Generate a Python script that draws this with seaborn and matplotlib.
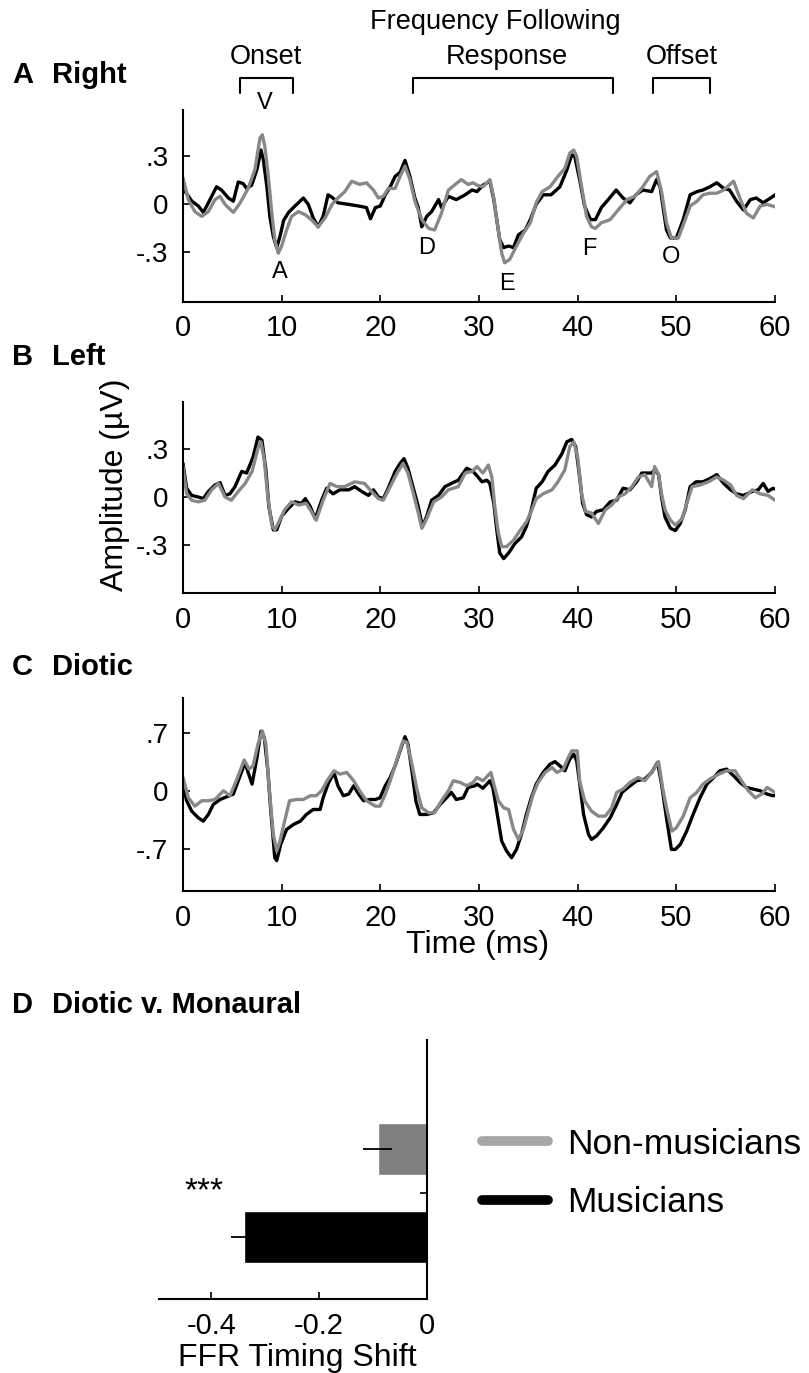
import numpy as np
import pandas as pd
import matplotlib
matplotlib.use('Agg')
import matplotlib.pyplot as plt
import matplotlib.transforms as mtransforms
from matplotlib.lines import Line2D
import seaborn as sns

# ---------------- data ----------------
right_musicians = [(0,0.10),(0.9,0.02),(1.55,-0.01),(2.06,-0.05),(2.57,0.01),(3.4,0.11),(3.9,0.09),(4.6,0.04),(5.1,0.02),(5.6,0.14),(6.1,0.13),(6.45,0.10),(6.96,0.12),(7.5,0.22),(7.9,0.34),(8.14,0.28),(8.5,0.11),(8.8,-0.075),(9.15,-0.2),(9.5,-0.27),(9.83,-0.2),(10.2,-0.1),(10.7,-0.05),(11.35,-0.01),(12.2,0.04),(12.7,0.0),(13.2,-0.085),(13.7,-0.14),(14.2,-0.075),(14.7,0.06),(15.2,0.04),(15.7,0.01),(16.8,0.0),(17.8,-0.01),(18.6,-0.02),(19.0,-0.09),(19.5,-0.02),(20.0,-0.01),(20.5,0.06),(21.0,0.11),(21.5,0.175),(22.0,0.2),(22.5,0.275),(23.0,0.175),(23.5,0.04),(23.85,-0.02),(24.2,-0.14),(24.7,-0.075),(25.2,-0.045),(25.9,0.03),(26.2,-0.02),(26.9,0.05),(27.7,0.03),(28.6,0.06),(29.3,0.09),(29.8,0.08),(30.4,0.12),(31.1,0.145),(31.5,0.03),(31.8,-0.095),(32.1,-0.22),(32.5,-0.27),(33.0,-0.26),(33.5,-0.27),(34.0,-0.19),(34.7,-0.16),(35.2,-0.095),(35.8,0.0),(36.5,0.06),(37.3,0.06),(38.2,0.11),(38.9,0.215),(39.4,0.31),(39.7,0.30),(40.2,0.155),(40.7,-0.01),(41.3,-0.095),(41.8,-0.095),(42.4,-0.02),(43.1,0.03),(43.9,0.09),(44.6,0.04),(45.3,0.01),(45.9,0.06),(46.6,0.09),(47.5,0.08),(48.0,0.155),(48.35,0.11),(48.7,-0.035),(49.0,-0.16),(49.4,-0.21),(50.0,-0.21),(50.7,-0.095),(51.4,0.06),(52.1,0.08),(52.7,0.09),(53.4,0.11),(54.1,0.135),(54.8,0.10),(55.4,0.09),(56.1,0.02),(56.8,-0.035),(57.5,0.03),(58.1,0.04),(58.8,0.01),(59.8,0.05),(60,0.06)]
right_nonmusicians = [(0,0.165),(0.54,0.03),(1.2,-0.045),(1.9,-0.075),(2.57,-0.045),(3.24,0.03),(3.75,0.05),(4.26,0.0),(5.1,-0.05),(5.8,0.01),(6.6,0.10),(7.3,0.22),(7.8,0.415),(8.04,0.435),(8.3,0.36),(8.65,0.175),(9.0,-0.055),(9.3,-0.22),(9.66,-0.305),(10.0,-0.26),(10.5,-0.16),(11.0,-0.075),(11.7,-0.045),(12.4,-0.065),(13.0,-0.095),(13.7,-0.14),(14.4,-0.085),(15.1,0.0),(15.7,0.04),(16.4,0.08),(17.1,0.145),(17.9,0.125),(18.6,0.135),(19.3,0.09),(19.8,0.04),(20.3,0.05),(20.8,0.10),(21.5,0.10),(22.0,0.175),(22.5,0.24),(23.0,0.155),(23.5,0.02),(24.2,-0.095),(24.9,-0.15),(25.5,-0.16),(26.2,-0.055),(26.9,0.09),(27.6,0.125),(28.2,0.155),(28.9,0.125),(29.4,0.135),(29.8,0.12),(30.4,0.11),(31.1,0.155),(31.5,0.04),(31.8,-0.095),(32.3,-0.305),(32.6,-0.365),(33.1,-0.345),(33.8,-0.26),(34.5,-0.18),(35.2,-0.115),(35.8,0.01),(36.4,0.08),(37.2,0.11),(38.0,0.175),(38.7,0.225),(39.2,0.32),(39.6,0.34),(39.9,0.30),(40.4,0.11),(40.9,-0.075),(41.4,-0.14),(41.8,-0.15),(42.4,-0.115),(43.3,-0.095),(44.1,-0.035),(45.0,0.03),(45.8,0.05),(46.6,0.11),(47.3,0.175),(48.0,0.205),(48.5,0.08),(49.0,-0.115),(49.5,-0.21),(50.2,-0.21),(50.9,-0.095),(51.4,-0.01),(52.1,0.02),(52.7,0.06),(53.4,0.07),(54.1,0.07),(54.8,0.09),(55.8,0.145),(56.5,0.03),(57.1,-0.055),(57.8,-0.085),(58.5,-0.01),(59.2,0.0),(60,-0.015)]

left_musicians = [(0,0.21),(0.37,0.055),(0.88,0.01),(1.55,0.0),(2.06,-0.01),(2.57,0.035),(3.24,0.075),(3.75,0.09),(4.26,0.01),(4.76,0.02),(5.27,0.065),(5.95,0.16),(6.45,0.15),(7.1,0.25),(7.6,0.375),(8.0,0.355),(8.4,0.17),(8.7,-0.06),(9.15,-0.205),(9.5,-0.205),(10.0,-0.12),(10.7,-0.07),(11.35,-0.03),(12.0,-0.04),(12.4,-0.01),(12.9,-0.06),(13.4,-0.135),(14.05,-0.02),(14.56,0.055),(15.2,0.02),(15.9,0.045),(16.8,0.045),(17.4,0.065),(18.1,0.035),(18.8,0.01),(19.3,0.045),(19.8,0.0),(20.3,-0.01),(20.8,0.055),(21.5,0.16),(22.0,0.21),(22.4,0.24),(22.8,0.18),(23.3,0.065),(23.85,-0.06),(24.26,-0.185),(24.7,-0.12),(25.2,-0.02),(25.9,0.01),(26.55,0.065),(27.2,0.085),(27.9,0.105),(28.75,0.18),(29.4,0.16),(29.9,0.125),(30.3,0.095),(30.8,0.105),(31.1,0.085),(31.5,-0.04),(31.8,-0.205),(32.1,-0.35),(32.5,-0.385),(33.0,-0.35),(33.65,-0.29),(34.3,-0.25),(34.8,-0.185),(35.3,-0.08),(35.8,0.055),(36.4,0.095),(37.0,0.16),(37.7,0.2),(38.4,0.27),(38.9,0.345),(39.4,0.36),(39.8,0.315),(40.2,0.125),(40.5,-0.04),(40.9,-0.11),(41.4,-0.125),(41.9,-0.09),(42.6,-0.08),(43.3,-0.03),(43.95,-0.02),(44.6,0.055),(45.3,0.045),(45.98,0.095),(46.5,0.15),(47.5,0.15),(47.8,0.17),(48.2,0.14),(48.5,0.0),(48.85,-0.125),(49.4,-0.195),(49.9,-0.21),(50.4,-0.165),(50.9,-0.08),(51.4,0.065),(52.0,0.095),(52.7,0.095),(53.4,0.115),(54.1,0.14),(54.8,0.085),(55.5,0.045),(56.1,0.02),(56.8,0.01),(57.7,0.035),(58.3,0.045),(58.8,0.085),(59.3,0.035),(59.8,0.055),(60,0.05)]
left_nonmusicians = [(0,0.19),(0.37,0.02),(0.88,-0.02),(1.55,-0.03),(2.2,-0.02),(2.9,0.045),(3.6,0.085),(4.26,0.0),(4.9,-0.02),(5.6,0.035),(6.3,0.085),(7.0,0.16),(7.6,0.305),(7.9,0.345),(8.24,0.23),(8.6,0.0),(9.0,-0.175),(9.3,-0.205),(9.8,-0.145),(10.3,-0.08),(11.0,-0.03),(11.7,-0.05),(12.5,-0.04),(13.0,-0.09),(13.5,-0.145),(14.2,-0.02),(14.9,0.085),(15.6,0.065),(16.4,0.065),(17.4,0.095),(18.4,0.085),(19.1,0.035),(19.8,-0.01),(20.3,-0.02),(21.0,0.065),(21.7,0.15),(22.3,0.21),(22.8,0.15),(23.3,0.035),(23.85,-0.1),(24.2,-0.195),(24.7,-0.135),(25.4,-0.03),(26.2,0.0),(26.9,0.045),(27.9,0.065),(28.6,0.15),(29.3,0.16),(29.8,0.19),(30.4,0.15),(30.95,0.2),(31.3,0.125),(31.6,-0.06),(31.96,-0.225),(32.3,-0.31),(32.8,-0.31),(33.5,-0.27),(34.1,-0.215),(34.8,-0.155),(35.3,-0.09),(35.8,-0.01),(36.5,0.02),(37.4,0.045),(38.0,0.095),(38.7,0.17),(39.2,0.315),(39.6,0.345),(40.0,0.25),(40.4,0.02),(40.8,-0.09),(41.4,-0.1),(42.1,-0.165),(42.8,-0.08),(43.45,-0.05),(44.1,0.0),(44.8,0.02),(45.5,0.065),(46.15,0.125),(46.8,0.14),(47.5,0.065),(47.8,0.19),(48.2,0.14),(48.5,0.02),(48.85,-0.08),(49.4,-0.145),(49.9,-0.175),(50.6,-0.135),(51.05,-0.04),(51.6,0.065),(52.4,0.075),(53.25,0.095),(54.1,0.125),(54.8,0.105),(55.5,0.075),(56.1,0.01),(56.8,-0.01),(57.7,0.045),(58.5,0.02),(59.3,0.01),(60,-0.02)]

diotic_musicians = [(0,0.065),(0.37,-0.115),(0.88,-0.24),(1.55,-0.32),(2.06,-0.36),(2.57,-0.28),(3.07,-0.16),(3.75,-0.1),(4.6,-0.06),(5.1,-0.035),(5.6,0.125),(6.3,0.345),(6.6,0.225),(7.0,0.085),(7.5,0.405),(7.9,0.72),(8.24,0.645),(8.6,0.245),(8.9,-0.24),(9.3,-0.8),(9.5,-0.835),(9.9,-0.64),(10.5,-0.46),(11.2,-0.4),(11.9,-0.36),(12.5,-0.28),(13.2,-0.22),(13.9,-0.22),(14.2,-0.08),(14.7,0.085),(15.3,0.225),(15.7,0.065),(16.25,-0.055),(16.8,-0.035),(17.3,0.065),(17.8,-0.035),(18.3,-0.115),(18.95,-0.1),(19.5,-0.1),(19.97,-0.08),(20.5,0.065),(21.0,0.165),(21.5,0.305),(22.0,0.485),(22.5,0.655),(22.8,0.565),(23.2,0.245),(23.6,-0.115),(24.0,-0.28),(24.7,-0.28),(25.4,-0.26),(26.05,-0.16),(26.7,-0.08),(27.2,-0.015),(27.7,-0.1),(28.4,-0.08),(28.9,0.045),(29.6,0.065),(29.8,0.085),(30.4,0.035),(31.1,0.125),(31.4,0.045),(31.8,-0.24),(32.3,-0.6),(32.8,-0.72),(33.3,-0.8),(33.8,-0.7),(34.3,-0.52),(34.8,-0.28),(35.3,-0.08),(35.8,0.085),(36.5,0.225),(37.2,0.325),(37.7,0.355),(38.2,0.305),(38.7,0.245),(39.2,0.385),(39.6,0.445),(39.9,0.365),(40.3,0.005),(40.6,-0.28),(41.1,-0.52),(41.4,-0.58),(41.9,-0.54),(42.6,-0.44),(43.3,-0.32),(43.95,-0.16),(44.5,-0.015),(45.1,0.045),(45.98,0.125),(46.8,0.145),(47.5,0.225),(48.1,0.345),(48.5,0.085),(49.0,-0.32),(49.5,-0.7),(49.9,-0.7),(50.4,-0.64),(51.05,-0.48),(51.7,-0.28),(52.4,-0.08),(53.1,0.085),(53.8,0.165),(54.4,0.245),(55.1,0.265),(55.8,0.185),(56.45,0.105),(57.1,0.045),(57.8,0.025),(58.5,0.005),(59.2,-0.035),(59.8,-0.055),(60,-0.05)]
diotic_nonmusicians = [(0,0.165),(0.54,-0.08),(1.2,-0.18),(1.9,-0.115),(2.57,-0.115),(3.24,-0.1),(4.1,0.005),(4.76,-0.055),(5.4,0.125),(6.2,0.375),(6.7,0.265),(7.1,0.305),(7.6,0.565),(8.04,0.725),(8.4,0.565),(8.7,0.085),(9.15,-0.52),(9.5,-0.72),(9.83,-0.6),(10.3,-0.36),(10.8,-0.115),(11.5,-0.1),(12.2,-0.1),(12.9,-0.055),(13.5,-0.055),(14.05,0.005),(14.6,0.125),(15.3,0.245),(15.9,0.205),(16.6,0.225),(17.3,0.125),(17.9,0.005),(18.6,-0.115),(19.5,-0.18),(19.97,-0.18),(20.5,-0.035),(21.0,0.125),(21.7,0.385),(22.3,0.605),(22.7,0.585),(23.2,0.325),(23.7,0.025),(24.2,-0.2),(24.9,-0.26),(25.5,-0.26),(26.2,-0.115),(26.9,0.005),(27.4,0.125),(28.1,0.105),(28.75,0.065),(29.4,0.105),(29.8,0.165),(30.4,0.125),(31.2,0.225),(31.5,0.085),(31.96,-0.115),(32.5,-0.2),(33.0,-0.22),(33.5,-0.46),(34.0,-0.58),(34.5,-0.46),(35.0,-0.24),(35.5,-0.035),(35.99,0.105),(36.7,0.225),(37.4,0.285),(37.9,0.225),(38.55,0.265),(39.05,0.405),(39.4,0.485),(39.96,0.485),(40.2,0.125),(40.7,-0.115),(41.4,-0.24),(42.1,-0.3),(42.8,-0.3),(43.45,-0.2),(43.95,-0.015),(44.6,0.025),(45.3,0.105),(46.15,0.165),(46.8,0.125),(47.5,0.225),(48.2,0.355),(48.6,0.045),(49.0,-0.2),(49.55,-0.48),(50.0,-0.44),(50.7,-0.3),(51.4,-0.08),(52.07,-0.015),(52.7,0.085),(53.4,0.145),(54.3,0.205),(55.1,0.245),(55.95,0.245),(56.6,0.125),(57.3,0.005),(58.0,-0.08),(58.65,-0.035),(59.2,0.045),(60,-0.015)]

# response regions (ms) for panel A brackets
region_labels = ["Onset", "Frequency Following\nResponse", "Offset"]
region_start = [5.8, 23.3, 47.6]
region_end = [11.1, 43.6, 53.4]

# peak labels for panel A (time ms, label position in uV)
peak_names = ["V", "A", "D", "E", "F", "O"]
peak_times = [8.3, 9.8, 24.7, 32.8, 41.2, 49.5]
peak_label_y = [0.635, -0.42, -0.27, -0.50, -0.28, -0.33]

# panel D
group_names = ["Non-musicians", "Musicians"]
shift_values = [-0.091, -0.339]
shift_errors = [0.027, 0.025]

x_ticks = [0, 10, 20, 30, 40, 50, 60]
ab_yticks = [-0.3, 0, 0.3]
ab_yticklabels = ["-.3", "0", ".3"]
c_yticks = [-0.7, 0, 0.7]
c_yticklabels = ["-.7", "0", ".7"]
d_xticks = [-0.4, -0.2, 0]
d_xticklabels = ["-0.4", "-0.2", "0"]

# ---------------- style ----------------
sns.set_theme(style="white")
FAM = ["Liberation Sans", "DejaVu Sans"]
plt.rcParams["font.family"] = FAM
plt.rcParams["axes.linewidth"] = 1.5
plt.rcParams["axes.edgecolor"] = "black"
plt.rcParams["text.color"] = "black"
plt.rcParams["axes.labelcolor"] = "black"
plt.rcParams["xtick.color"] = "black"
plt.rcParams["ytick.color"] = "black"

BLACK = "#000000"
GREY = "#888888"
BAR_GREY = "#808080"
LEG_GREY = "#a6a6a6"

W, H = 809, 1373
fig = plt.figure(figsize=(W / 100, H / 100), dpi=100)


def ax_rect(left, top, right, bottom):
    return [left / W, 1 - bottom / H, (right - left) / W, (bottom - top) / H]


def wave_panel(rect, mus, non, ylim, yticks, yticklabels):
    ax = fig.add_axes(rect)
    dm = pd.DataFrame(mus, columns=["t", "v"])
    dn = pd.DataFrame(non, columns=["t", "v"])
    sns.lineplot(data=dm, x="t", y="v", ax=ax, color=BLACK, lw=2.4,
                 estimator=None, sort=False)
    sns.lineplot(data=dn, x="t", y="v", ax=ax, color=GREY, lw=2.4,
                 estimator=None, sort=False)
    ax.set_xlim(0, 60)
    ax.set_ylim(*ylim)
    ax.set_xticks(x_ticks)
    ax.set_xticklabels([str(t) for t in x_ticks])
    ax.set_yticks(yticks)
    ax.set_yticklabels(yticklabels)
    ax.set_xlabel("")
    ax.set_ylabel("")
    for s in ["top", "right"]:
        ax.spines[s].set_visible(False)
    ax.tick_params(axis="both", direction="in", length=5, width=1.2, colors="black")
    ax.tick_params(axis="x", pad=9, labelsize=21)
    ax.tick_params(axis="y", pad=10.5, labelsize=20)
    ax.tick_params(left=True, bottom=True)
    return ax


axA = wave_panel(ax_rect(183, 110, 775, 302), right_musicians, right_nonmusicians,
                 (-0.61, 0.59), ab_yticks, ab_yticklabels)
axB = wave_panel(ax_rect(183, 402, 775, 593), left_musicians, left_nonmusicians,
                 (-0.60, 0.594), ab_yticks, ab_yticklabels)
axC = wave_panel(ax_rect(183, 698, 775, 891), diotic_musicians, diotic_nonmusicians,
                 (-1.2, 1.12), c_yticks, c_yticklabels)
fig.text(478 / W, 1 - 945 / H, "Time (ms)", ha="center", va="center", fontsize=23)

# brackets and labels in panel A
trA = mtransforms.blended_transform_factory(axA.transData, axA.transAxes)
for lab, s, e in zip(region_labels, region_start, region_end):
    axA.plot([s, s, e, e], [1.089, 1.167, 1.167, 1.089], color="black", lw=1.5,
             transform=trA, clip_on=False)
    if "\n" in lab:
        l1, l2 = lab.split("\n")
        axA.text((s + e) / 2 - 1.8, 1.458, l1, transform=trA, ha="center", va="center",
                 fontsize=19.5)
        axA.text((s + e) / 2 - 0.6, 1.276, l2, transform=trA, ha="center", va="center",
                 fontsize=19.5)
    else:
        axA.text((s + e) / 2, 1.276, lab, transform=trA, ha="center", va="center",
                 fontsize=19.5)
for nm, t, y in zip(peak_names, peak_times, peak_label_y):
    axA.text(t, y, nm, ha="center", va="center", fontsize=17, clip_on=False)

# y label
fig.text(115 / W, 1 - 485 / H, "Amplitude (µV)", rotation=90, ha="center",
         va="center", fontsize=23)

# panel titles
for letter, word, yc in [("A", "Right", 75), ("B", "Left", 357),
                         ("C", "Diotic", 667), ("D", "Diotic v. Monaural", 1005)]:
    fig.text(12 / W, 1 - yc / H, letter, ha="left", va="center", fontsize=21,
             fontweight="bold")
    fig.text(52 / W, 1 - yc / H, word, ha="left", va="center", fontsize=21,
             fontweight="bold")

# ---------------- panel D ----------------
axD = fig.add_axes(ax_rect(159, 1040, 427, 1299))
dfD = pd.DataFrame({"group": group_names, "shift": shift_values})
sns.barplot(data=dfD, x="shift", y="group", hue="group", orient="h",
            palette=[BAR_GREY, BLACK], width=0.6, errorbar=None, saturation=1,
            legend=False, ax=axD)
axD.errorbar(shift_values, [0, 1], xerr=shift_errors, fmt="none", ecolor="black",
             elinewidth=1.3, capsize=0, zorder=5)
axD.set_xlim(-0.497, 0)
axD.set_ylim(1.705, -1.239)
axD.set_xticks(d_xticks)
axD.set_xticklabels(d_xticklabels)
axD.yaxis.tick_right()
axD.set_yticks([0.5])
axD.set_yticklabels([])
axD.set_ylabel("")
axD.set_xlabel("")
axD.spines["left"].set_visible(False)
axD.spines["top"].set_visible(False)
axD.tick_params(axis="both", direction="in", length=5, width=1.2, colors="black")
axD.tick_params(axis="x", pad=9, bottom=True, labelsize=21)
axD.tick_params(axis="y", right=True, left=False)
axD.text(-0.413, 0.49, "***", ha="center", va="center", fontsize=24)
fig.text(297 / W, 1 - 1366 / H, "FFR Timing Shift", ha="center", va="baseline",
         fontsize=23)

handles = [Line2D([], [], color=LEG_GREY, lw=7), Line2D([], [], color=BLACK, lw=7)]
leg = axD.legend(handles, group_names, loc="center left",
                 bbox_to_anchor=(482 / W, 1 - 1173.5 / H), bbox_transform=fig.transFigure,
                 frameon=False, fontsize=25.5, handlelength=1.85, handletextpad=0.55,
                 labelspacing=0.72, borderpad=0, borderaxespad=0)
for t in leg.get_texts():
    t.set_color("black")

fig.savefig("out.png", dpi=100, facecolor="white")
